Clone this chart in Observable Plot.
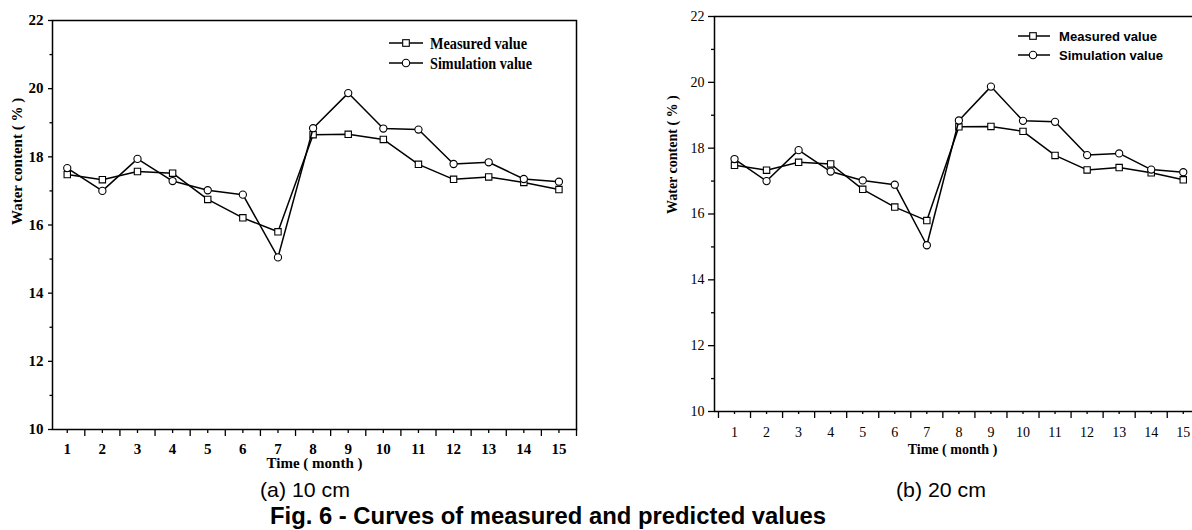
<!DOCTYPE html>
<html>
<head>
<meta charset="utf-8">
<script src="https://cdn.jsdelivr.net/npm/d3@7"></script>
<script src="https://cdn.jsdelivr.net/npm/@observablehq/plot@0.6"></script>
<style>
  html, body { margin: 0; padding: 0; background: #fff; }
  body { width: 1192px; height: 530px; overflow: hidden; position: relative; }
  .panel { position: absolute; top: 0; }
  .panel svg { max-width: none !important; }
  #overlay { position: absolute; left: 0; top: 0; pointer-events: none; }
</style>
</head>
<body>
<div id="left" class="panel" style="left:0px;width:600px"></div>
<div id="right" class="panel" style="left:600px;width:606px"></div>
<svg id="overlay" width="1192" height="530"></svg>
<script>
// ---------- data ----------
const months = [1, 2, 3, 4, 5, 6, 7, 8, 9, 10, 11, 12, 13, 14, 15];
const measured = [17.48, 17.33, 17.57, 17.52, 16.75, 16.21, 15.80, 18.65, 18.66, 18.51, 17.78, 17.34, 17.41, 17.25, 17.04];
const simulation = [17.67, 17.00, 17.94, 17.29, 17.02, 16.89, 15.05, 18.84, 19.87, 18.83, 18.80, 17.79, 17.84, 17.35, 17.27];
const yMajorTicks = [10, 12, 14, 16, 18, 20, 22];
const yMinorTicks = [11, 13, 15, 17, 19, 21];
const xHalfTicks = [0.5, 1.5, 2.5, 3.5, 4.5, 5.5, 6.5, 7.5, 8.5, 9.5, 10.5, 11.5, 12.5, 13.5, 14.5, 15.5];
const seriesNames = ["Measured value", "Simulation value"];
const xTitle = "Time ( month )";
const yTitle = "Water content ( % )";
const panelCaptions = ["(a) 10 cm", "(b) 20 cm"];
const figCaption = "Fig. 6 - Curves of measured and predicted values";

const dataM = months.map((m, i) => ({month: m, value: measured[i], series: seriesNames[0]}));
const dataS = months.map((m, i) => ({month: m, value: simulation[i], series: seriesNames[1]}));

const SERIF = "'Liberation Serif','Times New Roman',serif";
const SANS = "'Liberation Sans',Arial,sans-serif";

function panel(c) {
  const half = xHalfTicks.filter(t => t >= c.xDomain[0] - 1e-9 && t <= c.xDomain[1] + 1e-9);
  const weight = c.bold ? "bold" : "normal";
  const plot = Plot.plot({
    width: c.width, height: c.height,
    marginLeft: c.ml, marginRight: c.mr, marginTop: c.mt, marginBottom: c.mb,
    style: {fontFamily: SERIF, fontSize: c.tickFont + "px", fontWeight: weight, background: "transparent", color: "#000", overflow: "visible", maxWidth: "none"},
    x: {domain: c.xDomain},
    y: {domain: [10, 22]},
    marks: [
      Plot.axisY({ticks: yMajorTicks, tickSize: c.yMajor, tickPadding: c.yPad, tickFormat: d => String(d), label: null, strokeWidth: 1.3, fontWeight: weight, fontSize: c.tickFont}),
      Plot.axisY({ticks: yMinorTicks, tickSize: c.yMinor, tickFormat: () => "", label: null, strokeWidth: 1.3}),
      Plot.axisX({ticks: months, tickSize: c.xShort, tickPadding: c.xPad, tickFormat: d => String(d), label: null, strokeWidth: 1.3, fontWeight: weight, fontSize: c.tickFont}),
      Plot.axisX({ticks: half, tickSize: c.xLong, tickFormat: () => "", label: null, strokeWidth: 1.3}),
      Plot.frame({stroke: "#000", strokeWidth: 1.5}),
      Plot.line(dataM, {x: "month", y: "value", stroke: "#000", strokeWidth: 1.5}),
      Plot.dot(dataM, {x: "month", y: "value", symbol: "square", r: 3.6, fill: "#fff", stroke: "#000", strokeWidth: 1.1}),
      Plot.line(dataS, {x: "month", y: "value", stroke: "#000", strokeWidth: 1.5}),
      Plot.dot(dataS, {x: "month", y: "value", symbol: "circle", r: 3.6, fill: "#fff", stroke: "#000", strokeWidth: 1.1}),
      Plot.text([xTitle], {text: d => d, frameAnchor: "bottom", dy: c.xTitleDy, dx: c.xTitleDx, fontWeight: "bold", fontSize: c.xTitleFont, fill: "#000", ariaLabel: "xtitle"}),
      Plot.text([yTitle], {text: d => d, frameAnchor: "left", rotate: -90, dx: c.yTitleDx, fontWeight: "bold", fontSize: c.yTitleFont, fill: "#000", ariaLabel: "ytitle"})
    ]
  });
  plot.style.maxWidth = "none";
  d3.select(plot).selectAll('g[aria-label="xtitle"] text').attr("textLength", c.xTitleLen).attr("lengthAdjust", "spacingAndGlyphs");
  d3.select(plot).selectAll('g[aria-label="ytitle"] text').attr("textLength", c.yTitleLen).attr("lengthAdjust", "spacingAndGlyphs");
  document.querySelector(c.el).appendChild(plot);
}

panel({el: "#left", width: 600, height: 480, ml: 52, mr: 24, mt: 20, mb: 51, xDomain: [0.58, 15.5], bold: true,
  tickFont: 15, xShort: 4, xLong: 7, xPad: 9.5, yMajor: 4, yMinor: 2.5, yPad: 5,
  xTitleDy: 38, xTitleDx: 0, xTitleLen: 91, xTitleFont: 15, yTitleDx: -35, yTitleLen: 149, yTitleFont: 15});

panel({el: "#right", width: 606, height: 470, ml: 114, mr: 4, mt: 16, mb: 59, xDomain: [0.376, 15.6], bold: false,
  tickFont: 14, xShort: 3, xLong: 7, xPad: 13, yMajor: 6, yMinor: 3, yPad: 4,
  xTitleDy: 42, xTitleDx: -6, xTitleLen: 88, xTitleFont: 14, yTitleDx: -42, yTitleLen: 133, yTitleFont: 14});

// ---------- legends & captions (overlay) ----------
const ov = d3.select("#overlay");
function legend(l) {
  const symbols = ["square", "circle"];
  seriesNames.forEach((name, i) => {
    const y = l.rows[i];
    ov.append("line").attr("x1", l.lineX[0]).attr("x2", l.lineX[1]).attr("y1", y).attr("y2", y)
      .attr("stroke", "#000").attr("stroke-width", 1.5);
    if (symbols[i] === "square") {
      ov.append("rect").attr("x", l.mx - 3.3).attr("y", y - 3.3).attr("width", 6.6).attr("height", 6.6)
        .attr("fill", "#fff").attr("stroke", "#000").attr("stroke-width", 1.1);
    } else {
      ov.append("circle").attr("cx", l.mx).attr("cy", y).attr("r", 3.7)
        .attr("fill", "#fff").attr("stroke", "#000").attr("stroke-width", 1.1);
    }
    ov.append("text").attr("x", l.textX).attr("y", y).attr("dominant-baseline", "central")
      .attr("font-family", l.font).attr("font-weight", "bold").attr("font-size", l.size)
      .attr("textLength", l.lens[i]).attr("lengthAdjust", "spacingAndGlyphs").text(name);
  });
}
legend({lineX: [389, 423], mx: 406, rows: [43, 63], textX: 430, font: SERIF, size: 17, lens: [97, 102]});
legend({lineX: [1018, 1050], mx: 1033, rows: [36, 55], textX: 1059, font: SANS, size: 13.3, lens: [98, 104]});

[[305, panelCaptions[0]], [941, panelCaptions[1]]].forEach(([x, t]) => {
  ov.append("text").attr("x", x).attr("y", 497).attr("text-anchor", "middle")
    .attr("font-family", SANS).attr("font-size", 21).attr("textLength", 90).attr("lengthAdjust", "spacingAndGlyphs").text(t);
});
ov.append("text").attr("x", 548).attr("y", 524).attr("text-anchor", "middle")
  .attr("font-family", SANS).attr("font-weight", "bold").attr("font-size", 23)
  .attr("textLength", 556).attr("lengthAdjust", "spacingAndGlyphs").text(figCaption);
</script>
</body>
</html>
